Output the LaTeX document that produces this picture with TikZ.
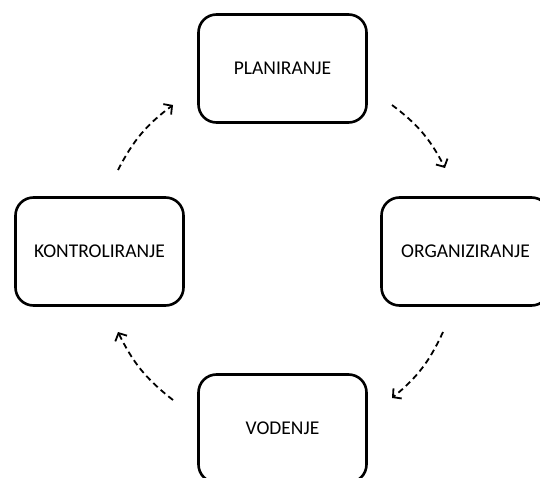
\documentclass[tikz,border=0pt]{standalone}
\usepackage{fontspec}
\setmainfont{Carlito}
\usetikzlibrary{arrows.meta}

\begin{document}
\begin{tikzpicture}[x=1pt, y=-1pt,
    faza/.style={draw, line width=2.6pt, rounded corners=18pt,
      minimum width=168pt, minimum height=108pt,
      font=\fontsize{19.5}{23}\selectfont},
    tok/.style={line width=1.8pt, dash pattern=on 6pt off 4pt,
      -{Straight Barb[length=6pt, width=13pt, line width=1.8pt]}, bend left=13}]
  \clip (0, 0) rectangle (540, 478);
  \useasboundingbox (0, 0) rectangle (540, 478);

  % cetiri faze
  \node[faza] (P) at (282.5, 68.5)  {PLANIRANJE};
  \node[faza] (O) at (465.5, 251.5) {ORGANIZIRANJE};
  \node[faza] (V) at (282.5, 428.5) {VODENJE};
  \node[faza] (K) at (99.5, 251.5)  {KONTROLIRANJE};

  % krajevi strelica
  \coordinate (t1) at (118, 170);
  \coordinate (h1) at (173, 105);
  \coordinate (t2) at (392, 105);
  \coordinate (h2) at (445, 168);
  \coordinate (t3) at (443, 332);
  \coordinate (h3) at (392, 398);
  \coordinate (t4) at (173, 400);
  \coordinate (h4) at (118, 332);

  \draw[tok] (t1) to (h1);
  \draw[tok] (t2) to (h2);
  \draw[tok] (t3) to (h3);
  \draw[tok] (t4) to (h4);
\end{tikzpicture}
\end{document}
